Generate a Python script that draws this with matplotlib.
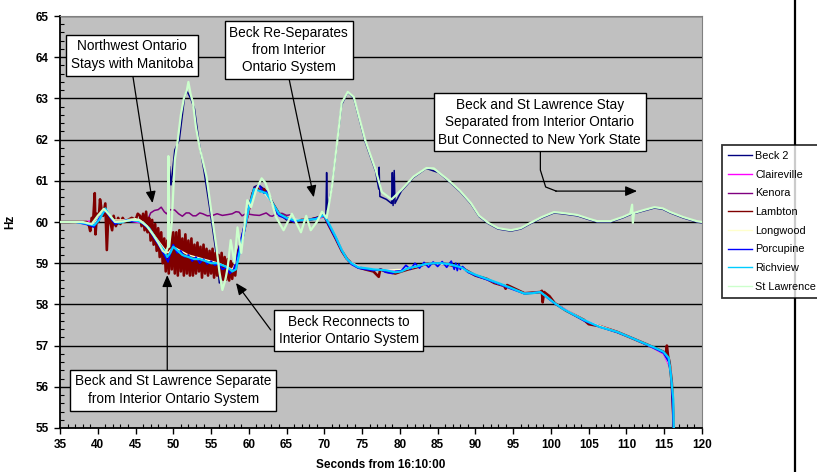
import numpy as np
import matplotlib.pyplot as plt
from matplotlib.lines import Line2D

plt.rcParams['font.family'] = ['Liberation Sans', 'DejaVu Sans']

# (seconds from 16:10:00, Hz)
beck2 = [(35,60.0),(38,60.0),(39.0,59.9),(39.6,59.88),(40.3,60.1),(41.0,60.3),(41.6,60.1),(42.3,59.92),
         (43.0,59.98),(43.8,60.05),(44.5,60.0),(45.3,60.03),(46.0,59.95),(46.8,59.8),(47.5,59.6),(48.2,59.35),
         (48.8,59.1),(49.2,59.0),(49.4,59.1),(49.5,61.35),(49.7,60.9),(50.2,61.75),(50.8,62.0),(51.5,63.05),
         (51.8,63.18),(52.3,63.0),(52.8,62.75),(53.4,61.95),(54.1,61.2),(54.8,60.36),(55.8,59.08),(56.1,58.52),
         (56.5,58.7),(57.0,58.82),(57.5,58.78),(58.0,58.85),(58.5,59.2),(59.0,59.6),(59.5,60.0),(60.0,60.35),
         (60.7,60.85),(61.3,60.9),(62.0,60.8),(62.6,60.7),(63.2,60.45),(64.0,60.2),(65.0,60.05),(66.2,60.0),
         (67.5,60.05),(68.9,60.1),(69.9,60.18),(70.2,60.12),(70.3,61.2),(70.4,60.3),(71.0,60.85),(72.3,62.85),
         (73.1,63.15),(73.9,63.0),(75.4,61.95),(76.8,61.22),(77.2,60.8),(77.25,61.33),(77.35,60.62),(78.2,60.55),
         (78.9,60.45),(79.0,61.2),(79.1,60.4),(79.25,61.25),(79.35,60.45),(80.2,60.75),(81.8,61.08),(83.5,61.3),
         (85.1,61.2),(86.4,61.0),(88.0,60.73),(89.4,60.44),(90.5,60.13),(91.7,59.96),(93.0,59.83),(94.7,59.78),
         (96.0,59.83),(97.3,59.96),(98.8,60.1),(100.4,60.22),(101.5,60.2),(103.5,60.15),(105.0,60.06),(106.1,60.0),
         (107.9,60.0),(109.5,60.1),(110.5,60.18),(112.5,60.28),(113.7,60.34),(114.8,60.31),(115.8,60.22),
         (117.5,60.1),(119.3,60.0),(120,59.98)]

claireville = [(35,60.0),(38,60.0),(40,60.05),(41,60.28),(42,60.02),(44,60.03),(46,59.97),(47,59.78),(48,59.5),
               (49,59.25),(50,59.38),(51,59.28),(52,59.18),(53,59.12),(54,59.08),(55,59.02),(56,58.98),(57,58.9),
               (57.8,58.82),(58.6,59.15),(59.4,59.75),(60.2,60.4),(61,60.82),(62,60.75),(63,60.5),(64,60.2),
               (66,60.02),(68,60.05),(70,60.12),(71.5,59.62),(73,59.08),(75,58.88),(78,58.82),(81,58.86),(84,59.0),
               (87,58.95),(90,58.72),(93,58.5),(96.5,58.27),(98.6,58.3),(100.5,58.03),(104.4,57.62),(108.8,57.33),
               (112.3,57.06),(114.9,56.8),(115.8,56.45),(116.2,55.6),(116.3,54.5)]

kenora = [(46.5,60.0),(47.0,60.22),(47.5,60.28),(48.0,60.3),(48.4,60.36),(48.8,60.25),(49.1,60.2),(49.6,60.3),
          (50.2,60.29),(50.7,60.2),(51.2,60.14),(51.7,60.22),(52.1,60.22),(52.6,60.15),(53.0,60.15),(53.5,60.22),
          (53.9,60.2),(54.5,60.15),(55.2,60.16),(55.8,60.2),(56.5,60.16),(57.2,60.18),(57.8,60.2),(58.3,60.25),
          (58.7,60.24),(59.1,60.15),(59.6,60.2),(60.0,60.19),(60.7,60.17),(61.4,60.16),(62.0,60.2),(62.3,60.22),
          (62.8,60.15),(63.1,60.14),(63.7,60.2),(64.4,60.21),(65.0,60.16),(65.7,60.18)]

lambton = [(35,60.0),(38.5,60.0),(38.8,59.95),(39.0,59.78),(39.2,60.1),(39.4,60.05),(39.6,60.7),(39.7,59.7),
           (39.9,60.2),(40.1,60.0),(40.3,60.55),(40.5,60.3),(40.7,60.15),(41.0,60.45),(41.2,59.32),(41.4,60.2),
           (41.6,60.05),(41.9,59.8),(42.1,60.15),(42.4,59.9),(42.7,60.1),(43.0,59.95),(43.3,60.1),(43.6,60.0),
           (44.0,60.05),(44.5,60.1),(45.0,60.05),(45.3,60.2),
           (45.6,60.15),(45.8,59.9),(46.0,60.2),(46.2,59.8),(46.4,60.25),(46.6,59.75),(46.8,60.1),(47.0,59.55),
           (47.2,60.05),(47.4,59.45),(47.6,59.95),(47.8,59.3),(48.0,59.85),(48.2,59.15),(48.4,59.75),(48.6,59.0),
           (48.8,59.6),(49.0,58.8),(49.2,59.55),(49.4,58.75),(49.6,59.8),(49.8,58.85),(50.0,59.75),(50.2,58.75),
           (50.4,59.75),(50.6,58.7),(50.8,59.8),(51.0,58.8),(51.2,59.6),(51.4,58.7),(51.6,59.7),(51.8,58.75),
           (52.0,59.55),(52.2,58.7),(52.4,59.6),(52.6,58.7),(52.8,59.45),(53.0,58.75),(53.2,59.5),(53.4,58.8),
           (53.6,59.4),(53.8,58.65),(54.0,59.45),(54.2,58.75),(54.4,59.35),(54.6,58.7),(54.8,59.3),(55.0,58.75),
           (55.2,59.35),(55.4,58.65),(55.6,59.25),(55.8,58.7),(56.0,59.2),(56.2,58.65),(56.4,59.25),(56.6,58.6),
           (56.8,59.15),(57.0,58.6),(57.2,59.1),(57.4,58.58),(57.6,59.05),(57.8,58.62),(58.0,59.0),(58.2,58.7),
           (58.4,59.1),(58.6,59.3),(59.0,59.5),(59.5,59.9),(60.0,60.3),(60.5,60.7),(61.0,60.85),(61.5,60.75),
           (62.0,60.8),(62.5,60.65),(63.0,60.5),(63.5,60.35),(64.0,60.2),(65.0,60.1),(66,60.0),(67,60.05),
           (68,60.05),(69,60.1),(70,60.15),(70.5,59.95),(71.5,59.6),(72.3,59.3),(73.0,59.1),(73.6,59.0),
           (74.5,58.9),(75.4,58.85),(76.5,58.8),(77.2,58.67),(77.4,58.85),(78.1,58.8),(79.4,58.75),(80.2,58.8),
           (81.1,58.85),(82.2,58.9),(83.4,58.98),(84.5,59.0),(86,58.98),(88.1,58.9),(90,58.7),(91.5,58.62),
           (92.5,58.52),(93.8,58.45),(94.0,58.38),(94.2,58.47),(96.5,58.27),(98.6,58.3),(98.8,58.33),
           (98.9,58.05),(99.1,58.3),(99.8,58.2),(100.5,58.03),(102,57.85),(104.4,57.62),(105,57.52),
           (106.5,57.47),(108.8,57.33),(110.5,57.2),(112.3,57.06),(114.9,56.85),(115.2,56.78),(115.35,57.0),
           (115.5,56.75),(115.7,56.6),(116.0,56.1),(116.2,55.3),(116.25,54.5)]

longwood = [(35,60.0),(38,59.98),(39.5,59.95),(40.5,60.2),(41.2,60.3),(42,60.05),(43.5,60.05),(45,60.08),
            (46,60.0),(47,59.8),(48,59.55),(48.8,59.35),(49.3,59.25),(50,59.4),(51,59.3),(52,59.2),(53,59.15),
            (54,59.1),(55,59.05),(56,59.0),(57,58.92),(57.8,58.85),(58.5,59.1),(59.3,59.7),(60,60.3),
            (60.8,60.78),(62,60.72),(63,60.48),(64,60.2),(65,60.08),(67,60.05),(69,60.07),(70,60.15),
            (71.5,59.62),(73,59.08),(75,58.88),(78,58.83),(81,58.86),(84,59.0),(87,58.95),(90,58.72),(93,58.5),
            (96.5,58.27),(98.6,58.3),(100.5,58.03),(104.4,57.62),(108.8,57.33),(112.3,57.06),(114.9,56.82),
            (115.8,56.5),(116.2,55.6),(116.3,54.5)]

porcupine = [(35,60.0),(37,60.0),(38.8,59.93),(39.5,59.88),(40.2,60.1),(41.0,60.28),(41.6,60.12),(42.3,59.95),
             (43.0,60.0),(43.8,60.05),(44.5,60.02),(45.3,60.05),(46.0,59.95),(46.8,59.82),(47.5,59.6),(48.2,59.4),
             (48.8,59.2),(49.3,59.03),(49.7,59.3),(50.0,59.45),(50.5,59.25),(51.0,59.3),(51.5,59.15),(52.0,59.2),
             (52.5,59.05),(53.0,59.15),(53.5,59.0),(54.0,59.1),(54.5,58.98),(55.0,59.05),(55.5,58.95),(56.0,59.0),
             (56.5,58.85),(57.0,58.9),(57.5,58.75),(58.0,58.85),(58.5,59.2),(59.0,59.6),(59.5,60.0),(60.0,60.35),
             (60.7,60.78),(61.3,60.9),(62.0,60.7),(62.5,60.75),(63.0,60.5),(63.5,60.3),(64.0,60.15),(65.0,60.08),
             (66.0,60.0),(67.0,60.05),(68.0,60.05),(69.0,60.1),(70.0,60.15),(70.5,59.95),(71.5,59.6),(72.3,59.3),
             (73.0,59.1),(73.6,58.97),(74.5,58.88),(75.4,58.85),(76.5,58.82),(77.5,58.85),(78.1,58.78),
             (79.0,58.75),(79.4,58.8),(80.2,58.82),(80.8,58.95),(81.4,58.85),(82.0,59.0),(82.6,58.88),(83.2,59.02),
             (83.8,58.9),(84.4,59.03),(85.0,58.92),(85.6,59.04),(86.2,58.9),(86.8,59.05),(87.2,58.85),(87.4,59.0),
             (87.6,58.82),(87.8,58.98),(88.0,58.85),(88.3,58.92),(89,58.78),(90,58.7),(91.5,58.6),(93,58.5),
             (94.7,58.38),(96.5,58.26),(98.6,58.3),(99.6,58.15),(100.5,58.02),(102.5,57.8),(104.4,57.6),
             (106.5,57.45),(108.8,57.32),(110.5,57.2),(112.3,57.05),(113.5,56.95),(114.9,56.82),(115.6,56.6),
             (115.9,56.3),(116.1,55.6),(116.3,54.5)]

richview = [(35,60.0),(36,60.0),(37,60.0),(38,59.98),(38.8,59.95),(39.5,59.92),(40.2,60.05),(41.0,60.33),
            (41.6,60.15),(42.3,60.0),(43.0,59.98),(43.8,60.03),(44.5,60.05),(45.3,60.02),(46.0,59.98),
            (46.8,59.85),(47.5,59.65),(48.2,59.45),(48.8,59.3),(49.2,59.15),(49.6,59.25),(50.0,59.4),(50.6,59.3),
            (51.2,59.2),(52.0,59.15),(52.8,59.1),(53.5,59.1),(54.3,59.05),(55.0,59.0),(55.8,59.0),(56.5,58.95),
            (57.2,58.9),(57.8,58.8),(58.3,58.85),(58.7,59.2),(59.3,59.7),(60.0,60.35),(60.7,60.8),(61.5,60.75),
            (62.3,60.7),(63.0,60.5),(64.0,60.2),(65.0,60.1),(66.2,60.03),(67.5,60.05),(68.9,60.07),(69.9,60.17),
            (70.5,60.0),(71.5,59.64),(72.3,59.32),(73.0,59.1),(73.6,59.0),(74.5,58.9),(75.4,58.88),(76.5,58.85),
            (78.1,58.83),(79.4,58.78),(80.2,58.8),(81.1,58.88),(82.2,58.92),(83.4,58.98),(84.5,59.0),(85.5,59.0),
            (86.4,58.98),(87.5,58.93),(88.1,58.9),(89,58.8),(90,58.72),(91.5,58.62),(93,58.52),(94.7,58.4),
            (96.5,58.26),(97.5,58.27),(98.6,58.3),(99.6,58.16),(100.5,58.03),(101.5,57.9),(102.5,57.8),
            (104.4,57.62),(106.5,57.45),(108.8,57.33),(110.5,57.2),(112.3,57.06),(113.5,56.97),(114.9,56.85),
            (115.6,56.7),(115.9,56.25),(116.2,55.7),(116.3,54.5)]

st_lawrence = [(35,60.0),(38,60.0),(39.2,59.95),(40.0,60.15),(40.8,60.32),(41.5,60.18),(42.3,60.0),(43.5,60.02),
               (44.5,60.05),(45.5,60.05),(46.5,59.9),(47.3,59.7),(48.0,59.5),(48.6,59.3),(49.0,59.25),(49.3,59.4),
               (49.35,61.6),(49.45,59.4),(49.8,60.0),(50.2,61.5),(50.6,62.0),(51.0,62.6),(51.4,63.0),(51.8,63.2),
               (52.0,63.4),(52.3,63.1),(52.6,62.9),(53.0,62.3),(53.5,61.8),(54.4,61.1),(55.0,60.3),(55.7,59.4),
               (56.1,58.8),(56.5,58.35),(56.9,58.6),(57.2,58.9),(57.6,59.56),(58.1,59.0),(58.5,59.87),(59.0,59.25),
               (59.4,59.9),(59.8,60.53),(60.3,60.36),(61.0,60.8),(61.7,61.06),(62.2,60.95),(62.7,60.7),(63.6,60.12),
               (64.6,59.8),(65.7,60.2),(66.9,59.75),(67.6,60.15),(68.2,59.8),(69.0,60.0),(69.7,60.25),(70.3,60.1),
               (71.0,60.85),(72.3,62.89),(73.1,63.16),(73.9,63.03),(75.4,61.99),(76.8,61.26),(77.6,60.73),
               (78.9,60.55),(80.2,60.78),(81.8,61.1),(83.5,61.31),(84.5,61.3),(85.1,61.21),(86.4,61.02),(88.0,60.75),
               (89.4,60.46),(90.5,60.15),(91.7,59.98),(93.0,59.85),(94.7,59.8),(96.0,59.85),(97.3,59.98),
               (98.8,60.12),(100.4,60.24),(101.5,60.22),(103.5,60.17),(105.0,60.08),(106.1,60.02),(107.9,60.02),
               (109.5,60.12),(110.5,60.2),(110.75,60.42),(110.85,59.98),(111.0,60.22),(112.5,60.3),(113.7,60.36),
               (114.8,60.33),(115.8,60.24),(117.5,60.12),(119.3,60.02),(120,60.0)]

series_names = ['Beck 2', 'Claireville', 'Kenora', 'Lambton', 'Longwood', 'Porcupine', 'Richview', 'St Lawrence']
series_data = [beck2, claireville, kenora, lambton, longwood, porcupine, richview, st_lawrence]
series_colors = ['#000080', '#FF00FF', '#800080', '#800000', '#FFFFCC', '#0000FF', '#00CCFF', '#CCFFCC']
series_widths = [1.1, 1.0, 1.1, 1.9, 1.0, 1.2, 1.6, 1.6]

fig = plt.figure(figsize=(8.17, 4.72), dpi=100)
ax = fig.add_axes([60/817, 1-428/472, 642/817, 412/472])
ax.set_facecolor('#C0C0C0')

handles = []
for i, (name, d, c, w) in enumerate(zip(series_names, series_data, series_colors, series_widths)):
    d = np.array(d)
    h, = ax.plot(d[:, 0], d[:, 1], color=c, lw=w, label=name, zorder=2 + i)
    handles.append(h)

ax.set_xlim(35, 120)
ax.set_ylim(55, 65)
ax.set_xticks(np.arange(35, 121, 5))
ax.set_xticks(np.arange(35, 121, 1), minor=True)
ax.set_yticks(np.arange(55, 66, 1))
ax.set_yticks(np.arange(55, 65.01, 0.2), minor=True)
ax.yaxis.grid(True, color='black', lw=1)
ax.set_axisbelow(True)
ax.tick_params(which='major', direction='out', length=4, width=1, labelsize=8.5, pad=4)
ax.tick_params(which='minor', direction='in', length=3, width=0.8)
for lab in ax.get_xticklabels() + ax.get_yticklabels():
    lab.set_fontweight('bold')
for s in ['top', 'right']:
    ax.spines[s].set_color('#808080')
for s in ['left', 'bottom']:
    ax.spines[s].set_linewidth(1.3)

ax.set_xlabel('Seconds from 16:10:00', fontweight='bold', fontsize=8.5, labelpad=6)
ax.set_ylabel('Hz', fontweight='bold', fontsize=8.5, labelpad=14)

# annotation boxes and arrows
box = dict(boxstyle='square,pad=0.35', fc='white', ec='black', lw=1)
arrow = dict(arrowstyle='-|>,head_length=0.7,head_width=0.3', color='black', lw=0.9, shrinkA=0, shrinkB=0)
fs = 9.8

ax.annotate('', xy=(47.25, 60.46), xytext=(44.6, 63.6), arrowprops=arrow, zorder=20)
ax.text(44.55, 64.05, 'Northwest Ontario\nStays with Manitoba', ha='center', va='center',
        fontsize=fs, bbox=box, zorder=21, linespacing=1.3)

ax.annotate('', xy=(68.6, 60.6), xytext=(65.3, 63.5), arrowprops=arrow, zorder=20)
ax.text(65.3, 64.17, 'Beck Re-Separates\nfrom Interior\nOntario System', ha='center', va='center',
        fontsize=fs, bbox=box, zorder=21, linespacing=1.3)

ax.plot([98.6, 98.6, 99.3, 100.7], [61.7, 61.26, 60.85, 60.75], color='black', lw=0.9, zorder=20)
ax.annotate('', xy=(111.4, 60.75), xytext=(100.6, 60.75), arrowprops=arrow, zorder=20)
ax.text(98.5, 62.42, 'Beck and St Lawrence Stay\nSeparated from Interior Ontario\nBut Connected to New York State',
        ha='center', va='center', fontsize=fs, bbox=box, zorder=21, linespacing=1.3)

ax.annotate('', xy=(58.3, 58.52), xytext=(62.9, 57.38), arrowprops=arrow, zorder=20)
ax.text(73.2, 57.37, 'Beck Reconnects to\nInterior Ontario System', ha='center', va='center',
        fontsize=fs, bbox=box, zorder=21, linespacing=1.3)

ax.annotate('', xy=(49.2, 58.71), xytext=(49.2, 56.3), arrowprops=arrow, zorder=20)
ax.text(50.0, 55.92, 'Beck and St Lawrence Separate\nfrom Interior Ontario System', ha='center', va='center',
        fontsize=fs, bbox=box, zorder=21, linespacing=1.3)

# vertical rule on the right of the page
fig.add_artist(Line2D([795/817, 795/817], [0, 1], transform=fig.transFigure, color='black', lw=1.6, zorder=1))

leg = fig.legend(handles=handles, loc='upper left', bbox_to_anchor=(722/817, 1-145/472),
                 fontsize=7.8, frameon=True, fancybox=False, borderaxespad=0, handlelength=2.2,
                 labelspacing=0.8, borderpad=0.55, handletextpad=0.3)
leg.get_frame().set_edgecolor('black')
leg.get_frame().set_linewidth(1.3)
leg.set_zorder(5)
for ln in leg.get_lines():
    ln.set_linewidth(1.0)

fig.savefig('out.png', dpi=100)
